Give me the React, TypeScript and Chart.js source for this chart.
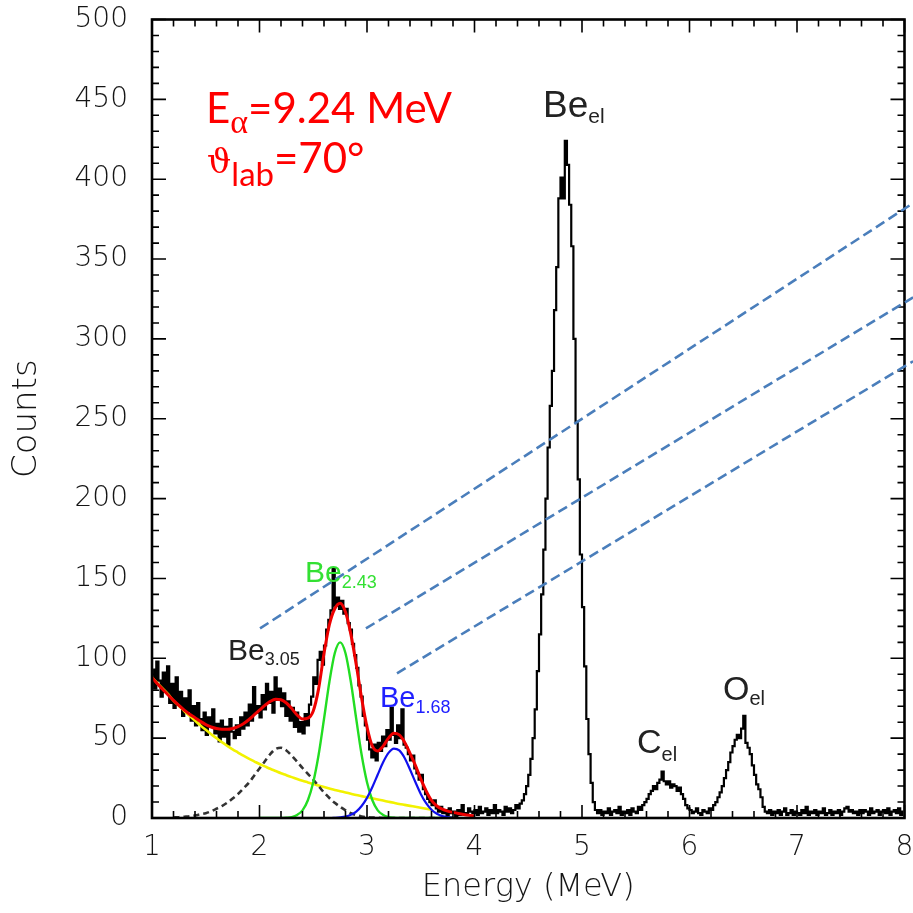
import React, { useEffect, useRef } from 'react';
import { Chart, registerables } from 'chart.js';

Chart.register(...registerables);

// Energy spectrum: 0.02 MeV bins starting at 1.0 MeV
const BIN_START = 1.0;
const BIN_WIDTH = 0.02;
const COUNTS = [
  93, 81, 98, 86, 76, 91, 79, 95, 72, 84,
  69, 88, 71, 79, 64, 75, 67, 80, 61, 70,
  58, 72, 62, 55, 66, 52, 63, 57, 68, 53,
  59, 48, 61, 51, 57, 46, 62, 54, 50, 58,
  52, 63, 56, 66, 58, 71, 61, 82, 66, 70,
  63, 77, 68, 84, 72, 79, 66, 88, 74, 81,
  70, 78, 64, 73, 61, 69, 57, 66, 54, 60,
  53, 65, 58, 71, 76, 88, 84, 99, 104, 96,
  108, 118, 124, 130, 156, 133, 138, 131, 136, 128,
  131, 122, 118, 109, 102, 94, 83, 76, 64, 58,
  49, 43, 38, 46, 36, 47, 42, 51, 45, 55,
  49, 69, 52, 47, 58, 50, 68, 46, 44, 40,
  36, 39, 31, 28, 24, 27, 18, 15, 12, 10,
  8, 11, 6, 4, 7, 3, 5, 2, 6, 3,
  4, 1, 5, 2, 8, 3, 2, 6, 4, 3,
  5, 2, 7, 3, 4, 6, 2, 5, 3, 8,
  3, 5, 4, 2, 7, 4, 6, 3, 5, 8,
  6, 9, 11, 15, 20, 27, 37, 50, 68, 92,
  115, 140, 168, 200, 232, 258, 280, 318, 345, 388,
  401, 388, 424, 409, 384, 358, 300, 248, 212, 165,
  132, 95, 62, 40, 22, 10, 5, 3, 5, 2,
  4, 3, 6, 2, 4, 5, 3, 7, 2, 4,
  3, 5, 2, 6, 4, 3, 7, 5, 8, 10,
  12, 15, 17, 20, 18, 22, 24, 29, 23, 21,
  23, 19, 21, 20, 17, 19, 15, 12, 8, 6,
  5, 3, 4, 6, 3, 2, 5, 4, 3, 6,
  5, 8, 10, 13, 16, 20, 25, 30, 35, 41,
  45, 49, 52, 50, 56, 64, 47, 44, 40, 33,
  27, 21, 18, 13, 7, 4, 3, 5, 2, 4,
  3, 5, 2, 4, 6, 2, 3, 5, 2, 4,
  3, 2, 5, 3, 7, 2, 4, 3, 5, 2,
  4, 3, 6, 2, 3, 5, 2, 4, 3, 5,
  2, 4, 6, 7, 4, 5, 3, 4, 2, 5,
  3, 5, 4, 2, 6, 3, 4, 5, 2, 4,
  5, 3, 6, 2, 4, 5, 3, 6, 2, 4,
];

// Fit curves sampled every 0.05 MeV from 1.00 to 4.00 MeV (null = not drawn)
const FIT_START = 1.0;
const FIT_STEP = 0.05;
const FIT_TOTAL = [
  88, 84, 80.5, 77, 73.7, 70.5, 67.5, 65, 62.8, 60.5,
  58.5, 57, 56, 55.5, 55.5, 56, 57.2, 59, 61.5, 64.5,
  67.5, 70.5, 73, 74.3, 74, 72, 68.5, 64.5, 62, 62.5,
  67, 81, 103, 121, 131, 134.5, 129, 115, 96, 75,
  57, 45, 42, 45, 50, 53, 52, 47.5, 40.5, 33,
  24.5, 17, 11, 7.5, 5.5, 4.3, 3.5, 2.8, 2.2, 1.7, 1.3,
];
const FIT_BACKGROUND = [
  88, 84.5, 81, 77.5, 73.5, 70.3, 67, 64, 61, 58,
  55.2, 52.5, 50, 47.5, 45.2, 43, 41, 39, 37.2, 35.5,
  33.8, 32.3, 30.8, 29.4, 28, 26.8, 25.6, 24.4, 23.3, 22.3,
  21.3, 20.3, 19.4, 18.5, 17.6, 16.8, 16, 15.2, 14.4, 13.7,
  13, 12.3, 11.6, 10.9, 10.2, 9.5, 8.8, 8.2, 7.6, 7,
  6.4, 5.8, 5.2, null, null, null, null, null, null, null, null,
];
const FIT_BE305 = [
  null, null, null, null, 0.3, 0.5, 0.8, 1.1, 1.6, 2.3,
  3, 4.2, 5.8, 7.5, 9.6, 12.2, 15, 18.5, 22, 26.5,
  31, 35.5, 40, 43.2, 44, 42.3, 39, 35.3, 31.3, 27.6,
  24, 20, 16, 12.5, 9.5, 7, 4.8, 3, 1.8, 1,
  0.5, 0.3, 0.1, 0, 0, 0, 0, 0, 0, 0,
  0, 0, 0, 0, 0, 0, 0, null, null, null, null,
];
const FIT_BE243 = [
  null, null, null, null, null, null, null, null, null, null,
  null, null, null, null, null, null, null, null, null, null,
  0, 0, 0, 0, 0, 0.2, 0.6, 1.9, 4.8, 11.1,
  22.4, 39.6, 62, 85.2, 103.2, 110, 103.2, 85.2, 62, 39.6,
  22.4, 11.1, 4.8, 1.9, 0.6, 0.2, 0, 0, 0, 0,
  0, 0, 0, 0, 0, 0, 0, null, null, null, null,
];
const FIT_BE168 = [
  null, null, null, null, null, null, null, null, null, null,
  null, null, null, null, null, null, null, null, null, null,
  null, null, null, null, null, null, null, 0, 0, 0,
  0, 0, 0, 0, 0.15, 0.4, 0.9, 2, 4, 7.5,
  12.6, 19.4, 27.2, 34.9, 40.8, 43.5, 42.3, 37.6, 30.4, 22.5,
  15.1, 9.3, 5.2, 2.7, 1.2, 0.5, 0.2, null, null, null, null,
];

// Axis ranges
const X_MIN = 1;
const X_MAX = 8;
const Y_MIN = 0;
const Y_MAX = 500;

// Dashed guide lines, [x1, y1, x2, y2] in MeV / counts
const GUIDE_LINES = [
  [2.005, 118.7, 8.08, 385],
  [2.99, 118.7, 8.08, 326],
  [3.279, 90.6, 8.08, 286],
];

type Part = { text: string; font: string; dy: number };
type PeakLabel = { x: number; y: number; color: string; parts: Part[] };

const SANS = '"Liberation Sans", Arial, sans-serif';
const RED_FONT = 'Lato, "Open Sans", sans-serif';
const AXIS_FONT = '"DejaVu Sans"';
const AXIS_COLOR = '#151515';

const PEAK_LABELS: PeakLabel[] = [
  {
    x: 4.637, y: 438.7, color: '#222',
    parts: [
      { text: 'Be', font: `37px ${SANS}`, dy: 0 },
      { text: 'el', font: `21px ${SANS}`, dy: 6 },
    ],
  },
  {
    x: 1.707, y: 98.9, color: '#222',
    parts: [
      { text: 'Be', font: `30px ${SANS}`, dy: 0 },
      { text: '3.05', font: `18px ${SANS}`, dy: 5 },
    ],
  },
  {
    x: 2.423, y: 147.7, color: '#33e033',
    parts: [
      { text: 'Be', font: `30px ${SANS}`, dy: 0 },
      { text: '2.43', font: `18px ${SANS}`, dy: 6 },
    ],
  },
  {
    x: 3.121, y: 69.5, color: '#2020ff',
    parts: [
      { text: 'Be', font: `29px ${SANS}`, dy: 0 },
      { text: '1.68', font: `18px ${SANS}`, dy: 6 },
    ],
  },
  {
    x: 5.512, y: 40.7, color: '#222',
    parts: [
      { text: 'C', font: `34px ${SANS}`, dy: 0 },
      { text: 'el', font: `20px ${SANS}`, dy: 8 },
    ],
  },
  {
    x: 6.312, y: 73.8, color: '#222',
    parts: [
      { text: 'O', font: `34px ${SANS}`, dy: 0 },
      { text: 'el', font: `20px ${SANS}`, dy: 5 },
    ],
  },
  {
    x: 1.502, y: 434.9, color: '#ff0000',
    parts: [
      { text: 'E', font: `42px ${RED_FONT}`, dy: 0 },
      { text: 'α', font: '34px "Liberation Serif", serif', dy: 10 },
      { text: '=9.24 MeV', font: `42px ${RED_FONT}`, dy: 0 },
    ],
  },
  {
    x: 1.512, y: 404, color: '#ff0000',
    parts: [
      { text: 'ϑ', font: '34px "DejaVu Serif", serif', dy: 0 },
      { text: 'lab', font: `33px ${RED_FONT}`, dy: 13 },
      { text: '=70°', font: `42px ${RED_FONT}`, dy: 0 },
    ],
  },
];

const framePlugin = {
  id: 'frameTicks',
  afterDatasetsDraw(chart: any) {
    const { ctx, chartArea, scales } = chart;
    const { left, right, top, bottom } = chartArea;
    const xs = scales.x;
    const ys = scales.y;
    ctx.save();
    ctx.strokeStyle = '#000';
    ctx.lineWidth = 1.6;
    ctx.beginPath();
    for (let i = 0; i <= (X_MAX - X_MIN) * 5; i++) {
      const px = xs.getPixelForValue(X_MIN + i * 0.2);
      const len = i % 5 === 0 ? 13 : 7;
      ctx.moveTo(px, bottom);
      ctx.lineTo(px, bottom - len);
      ctx.moveTo(px, top);
      ctx.lineTo(px, top + len);
    }
    for (let i = 0; i <= (Y_MAX - Y_MIN) / 10; i++) {
      const py = ys.getPixelForValue(Y_MIN + i * 10);
      const len = i % 5 === 0 ? 14 : 7;
      ctx.moveTo(left, py);
      ctx.lineTo(left + len, py);
      ctx.moveTo(right, py);
      ctx.lineTo(right - len, py);
    }
    ctx.stroke();
    ctx.lineWidth = 2.6;
    ctx.strokeRect(left, top, right - left, bottom - top);
    ctx.restore();
  },
};

const guidePlugin = {
  id: 'guideLines',
  afterDatasetsDraw(chart: any) {
    const { ctx, scales } = chart;
    ctx.save();
    ctx.strokeStyle = '#4a7ebb';
    ctx.lineWidth = 2.6;
    ctx.setLineDash([10, 5]);
    for (const [x1, y1, x2, y2] of GUIDE_LINES) {
      ctx.beginPath();
      ctx.moveTo(scales.x.getPixelForValue(x1), scales.y.getPixelForValue(y1));
      ctx.lineTo(scales.x.getPixelForValue(x2), scales.y.getPixelForValue(y2));
      ctx.stroke();
    }
    ctx.restore();
  },
};

const labelPlugin = {
  id: 'peakLabels',
  afterDatasetsDraw(chart: any) {
    const { ctx, scales } = chart;
    ctx.save();
    ctx.textAlign = 'left';
    ctx.textBaseline = 'alphabetic';
    for (const lab of PEAK_LABELS) {
      let px = scales.x.getPixelForValue(lab.x);
      const py = scales.y.getPixelForValue(lab.y);
      ctx.fillStyle = lab.color;
      for (const part of lab.parts) {
        ctx.font = part.font;
        ctx.fillText(part.text, px, py + part.dy);
        px += ctx.measureText(part.text).width;
      }
    }
    ctx.restore();
  },
};

const fitPoints = (vals: (number | null)[]) =>
  vals.map((v, i) => ({ x: FIT_START + i * FIT_STEP, y: v }));

export default function App() {
  const canvasRef = useRef<HTMLCanvasElement>(null);

  useEffect(() => {
    const canvas = canvasRef.current;
    if (!canvas) return;
    const histogram = COUNTS.map((c, i) => ({ x: BIN_START + (i + 0.5) * BIN_WIDTH, y: c }));
    const curve = { pointRadius: 0, cubicInterpolationMode: 'monotone' as const, fill: false, spanGaps: false };

    const chart = new Chart(canvas, {
      type: 'line',
      data: {
        datasets: [
          { label: 'Total fit', data: fitPoints(FIT_TOTAL) as any, borderColor: '#ee0000', borderWidth: 3, ...curve },
          { label: 'Be 1.68', data: fitPoints(FIT_BE168) as any, borderColor: '#1010ee', borderWidth: 2.2, ...curve },
          { label: 'Be 2.43', data: fitPoints(FIT_BE243) as any, borderColor: '#22dd22', borderWidth: 2.4, ...curve },
          { label: 'Be 3.05', data: fitPoints(FIT_BE305) as any, borderColor: '#333333', borderWidth: 2.6, borderDash: [6, 4], ...curve },
          { label: 'Background', data: fitPoints(FIT_BACKGROUND) as any, borderColor: '#f2f200', borderWidth: 2.6, ...curve },
          { label: 'Spectrum', data: histogram as any, borderColor: '#000000', borderWidth: 2.2, pointRadius: 0, stepped: 'middle', fill: false },
        ],
      },
      options: {
        responsive: false,
        animation: false,
        devicePixelRatio: 1,
        layout: { padding: { top: 19.5, right: 8.5, bottom: 0, left: 0 } },
        plugins: { legend: { display: false }, tooltip: { enabled: false } },
        scales: {
          x: {
            type: 'linear',
            min: X_MIN,
            max: X_MAX,
            grid: { display: false, drawTicks: false },
            border: { display: false },
            ticks: {
              stepSize: 1,
              padding: 13,
              color: AXIS_COLOR,
              font: { family: AXIS_FONT, size: 28, weight: '300' },
            },
            title: {
              display: true,
              text: 'Energy (MeV)',
              color: AXIS_COLOR,
              font: { family: AXIS_FONT, size: 32, weight: '300' },
              padding: { top: 0, bottom: 6 },
            },
            afterFit(scale: any) {
              scale.height = 95;
              scale.paddingLeft = 0;
              scale.paddingRight = 0;
            },
          },
          y: {
            type: 'linear',
            min: Y_MIN,
            max: Y_MAX,
            grid: { display: false, drawTicks: false },
            border: { display: false },
            ticks: {
              stepSize: 50,
              padding: 24,
              color: AXIS_COLOR,
              font: { family: AXIS_FONT, size: 28, weight: '300' },
            },
            title: {
              display: true,
              text: 'Counts',
              color: AXIS_COLOR,
              font: { family: AXIS_FONT, size: 34, weight: '300' },
              padding: { top: 7, bottom: 0 },
            },
            afterFit(scale: any) {
              scale.width = 152;
              scale.paddingTop = 0;
              scale.paddingBottom = 0;
            },
          },
        },
      },
      plugins: [framePlugin, guidePlugin, labelPlugin],
    });
    return () => chart.destroy();
  }, []);

  return (
    <div style={{ position: 'absolute', left: 0, top: 0, width: 913, height: 913, background: '#ffffff' }}>
      <canvas ref={canvasRef} width={913} height={913} style={{ width: 913, height: 913, display: 'block' }} />
    </div>
  );
}
